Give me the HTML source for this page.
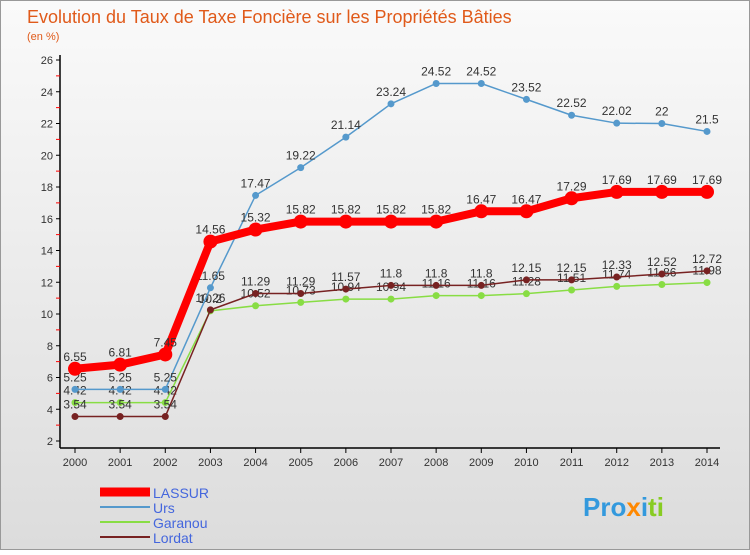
<!DOCTYPE html>
<html><head><meta charset="utf-8"><style>
body{margin:0;width:750px;height:550px;overflow:hidden;font-family:"Liberation Sans",sans-serif;}
svg text{font-family:"Liberation Sans",sans-serif;}
</style></head><body>
<svg width="750" height="550">
<defs><linearGradient id="bg" x1="0" y1="0" x2="0" y2="1"><stop offset="0" stop-color="#fafafa"/><stop offset="1" stop-color="#dcdcdc"/></linearGradient></defs>
<rect x="0.5" y="0.5" width="749" height="549" fill="url(#bg)" stroke="#999"/>
<text x="27" y="23" font-size="18" fill="#e05a1a">Evolution du Taux de Taxe Foncière sur les Propriétés Bâties</text>
<text x="27" y="40" font-size="11" fill="#e05a1a">(en %)</text>
<g id="axes"></g>
<g id="series"></g>
<g>
<line x1="100" y1="492" x2="150" y2="492" stroke="#f00" stroke-width="9"/><text x="153" y="498" font-size="14" fill="#4466dd">LASSUR</text>
<line x1="100" y1="507" x2="150" y2="507" stroke="#5599cc" stroke-width="2"/><text x="153" y="513" font-size="14" fill="#4466dd">Urs</text>
<line x1="100" y1="522" x2="150" y2="522" stroke="#88dd44" stroke-width="2"/><text x="153" y="528" font-size="14" fill="#4466dd">Garanou</text>
<line x1="100" y1="537" x2="150" y2="537" stroke="#772222" stroke-width="2"/><text x="153" y="543" font-size="14" fill="#4466dd">Lordat</text>
</g>
<text x="583" y="516" font-size="26" font-weight="bold"><tspan fill="#3399dd">Pro</tspan><tspan fill="#ff8800">x</tspan><tspan fill="#3399dd">i</tspan><tspan fill="#88cc22">ti</tspan></text>
</svg>
<script>
const years=[2000,2001,2002,2003,2004,2005,2006,2007,2008,2009,2010,2011,2012,2013,2014];
const lassur=[6.55,6.81,7.45,14.56,15.32,15.82,15.82,15.82,15.82,16.47,16.47,17.29,17.69,17.69,17.69];
const urs=[5.25,5.25,5.25,11.65,17.47,19.22,21.14,23.24,24.52,24.52,23.52,22.52,22.02,22,21.5];
const garanou=[4.42,4.42,4.42,10.2,10.52,10.73,10.94,10.94,11.16,11.16,11.28,11.51,11.74,11.86,11.98];
const lordat=[3.54,3.54,3.54,10.26,11.29,11.29,11.57,11.8,11.8,11.8,12.15,12.15,12.33,12.52,12.72];
const yTicks=[2,4,6,8,10,12,14,16,18,20,22,24,26];
const NS="http://www.w3.org/2000/svg";
const X=i=>75+i*(707-75)/(years.length-1);
const Y=v=>441-(v-2)*(441-60)/24;
function mk(t,a,p){const e=document.createElementNS(NS,t);for(const k in a)e.setAttribute(k,a[k]);p.appendChild(e);return e;}
const ax=document.getElementById('axes'),sg=document.getElementById('series');
mk('line',{x1:60,y1:55,x2:60,y2:448,stroke:'#000','stroke-width':1.5},ax);
mk('line',{x1:60,y1:448,x2:720,y2:448,stroke:'#000','stroke-width':1.5},ax);
yTicks.forEach((v,k)=>{
  mk('line',{x1:56,y1:Y(v),x2:60,y2:Y(v),stroke:'#000'},ax);
  if(k<yTicks.length-1) mk('line',{x1:56,y1:Y(v+1),x2:60,y2:Y(v+1),stroke:'#f00'},ax);
  const t=mk('text',{x:53,y:Y(v)+4,'font-size':11,'text-anchor':'end',fill:'#333'},ax);
  
  
  t.textContent=v;
});
years.forEach((y,i)=>{
  mk('line',{x1:X(i),y1:448,x2:X(i),y2:453,stroke:'#000'},ax);
  const t=mk('text',{x:X(i),y:466,'font-size':11,'text-anchor':'middle',fill:'#333'},ax);
  
  
  t.textContent=y;
});
function draw(name,vals,color,w,r){
  const g=mk('g',{},sg);
  
  
  mk('polyline',{points:vals.map((v,i)=>X(i)+','+Y(v)).join(' '),fill:'none',stroke:color,'stroke-width':w,'stroke-linejoin':'round'},g);
  vals.forEach((v,i)=>{
    const c=mk('circle',{cx:X(i),cy:Y(v),r:r,fill:color},g);
    
    
    const t=mk('text',{x:X(i),y:Y(v)-8,'font-size':12,'text-anchor':'middle',fill:'#333'},g);
    
    
    t.textContent=v;
  });
}
draw('garanou',garanou,'#88dd44',1.5,3.5);
draw('lordat',lordat,'#772222',1.5,3.5);
draw('urs',urs,'#5599cc',1.5,3.5);
draw('lassur',lassur,'#f00',8,7);
</script>
</body></html>
